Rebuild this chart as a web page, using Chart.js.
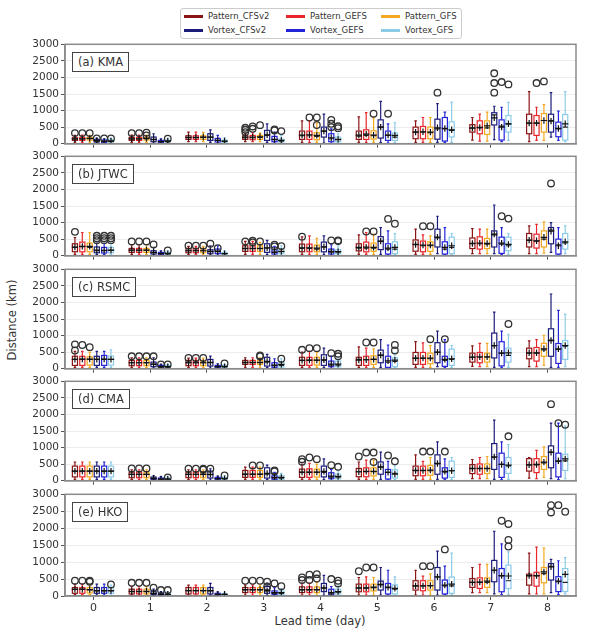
<!DOCTYPE html>
<html>
<head>
<meta charset="utf-8">
<script src="https://cdn.jsdelivr.net/npm/chart.js@4.4.1/dist/chart.umd.min.js"></script>
<style>
  body { margin: 0; background: #fff; width: 589px; height: 639px; position: relative; overflow: hidden;
         font-family: "DejaVu Sans", sans-serif; color: #333; }
  canvas { position: absolute; left: 0; }
  .legend { position: absolute; left: 180px; top: 8px; width: 280px; height: 29px; border: 1px solid #ccc; border-radius: 3px; background: #fff; }
  .item { position: absolute; font-size: 8.5px; line-height: 10px; white-space: nowrap; }
  .item i { position: absolute; left: 0; top: 4px; width: 19px; height: 3px; }
  .item span { position: absolute; left: 24px; top: 0; }
  .plabel { position: absolute; left: 72px; font-size: 11.5px; line-height: 16px; padding: 1px 5px; border: 1.3px solid #444; background: #fff; z-index: 5; }
  .xtitle { position: absolute; left: 0; width: 640px; top: 614px; text-align: center; font-size: 11.5px; }
  .ytitle { position: absolute; left: 12px; top: 320px; font-size: 11.5px; white-space: nowrap; transform: translate(-50%, -50%) rotate(-90deg); }
</style>
</head>
<body>
<div class="legend" id="legend"></div>
<div class="xtitle">Lead time (day)</div>
<div class="ytitle">Distance (km)</div>
<script>
// categories and labels
const leadDays = [0, 1, 2, 3, 4, 5, 6, 7, 8];
const yTicks = [0, 500, 1000, 1500, 2000, 2500, 3000];
const seriesNames = ['Pattern_CFSv2', 'Pattern_GEFS', 'Pattern_GFS', 'Vortex_CFSv2', 'Vortex_GEFS', 'Vortex_GFS'];
const panelLabels = ['(a) KMA', '(b) JTWC', '(c) RSMC', '(d) CMA', '(e) HKO'];

// box stats per lead: [low whisker, q1, median, q3, high whisker, mean] (km)
// (a) KMA
const kma_pCFSv2 = [[40,100,140,180,250,150],[40,100,140,190,260,150],[60,130,180,240,350,190],[60,130,180,240,320,200],[40,130,240,380,690,260],[40,130,230,380,810,260],[40,150,350,500,690,350],[110,350,480,575,790,470],[60,300,620,890,1570,620]];
const kma_pGEFS  = [[40,100,140,190,260,150],[40,100,140,190,260,150],[60,130,180,240,350,190],[60,120,180,250,330,200],[40,130,240,380,690,270],[40,130,250,420,935,290],[40,150,350,520,790,360],[80,300,480,690,890,490],[100,250,620,850,1100,620]];
const kma_pGFS   = [[40,110,150,190,250,160],[40,110,150,190,260,160],[60,130,190,240,340,200],[60,130,190,250,320,210],[40,120,220,330,620,250],[40,140,240,390,780,260],[40,150,330,500,790,350],[80,280,480,690,955,540],[100,350,700,910,1180,700]];
const kma_vCFSv2 = [[20,50,90,130,170,90],[20,60,120,200,300,130],[40,100,200,300,420,200],[40,100,250,400,600,270],[20,200,380,500,890,380],[30,170,500,720,1280,500],[40,135,450,740,1210,480],[120,565,870,935,1130,780],[200,350,700,890,1540,680]];
const kma_vGEFS  = [[20,40,70,110,150,70],[20,30,60,100,150,60],[20,50,100,160,250,100],[20,60,120,220,350,130],[10,60,150,300,450,180],[20,100,250,380,600,260],[40,80,450,790,955,460],[60,110,530,720,1100,500],[100,210,450,650,985,460]];
const kma_vGFS   = [[20,50,80,120,160,80],[20,50,80,110,150,80],[20,40,70,110,180,80],[20,50,80,140,250,100],[20,60,120,200,300,130],[30,100,200,320,640,250],[40,205,400,660,1255,420],[100,350,600,850,1250,600],[60,110,500,880,1570,600]];
// outliers: [lead, series, km]
const kmaOutliers = [[0,0,320],[0,1,320],[0,2,320],[0,3,160],[0,4,160],[0,5,160],[1,0,320],[1,1,320],[1,2,330],[1,2,250],[1,5,150],
  [3,0,350],[3,0,420],[3,0,480],[3,1,520],[3,1,450],[3,2,560],[3,4,430],[3,4,400],[3,5,380],
  [4,1,790],[4,2,790],[4,2,565],[4,4,720],[4,4,600],[4,4,500],[4,5,525],[4,5,470],[5,2,905],[5,4,905],[6,3,1540],
  [7,3,2125],[7,3,1830],[7,3,1540],[7,4,1860],[7,5,1790],[8,1,1830],[8,2,1880]];

// (b) JTWC
const jtwc_pCFSv2 = [[40,120,250,360,550,260],[40,100,165,220,330,170],[30,90,150,220,280,150],[40,130,215,300,430,220],[40,120,220,350,570,240],[40,146,230,360,630,250],[40,135,330,475,800,340],[60,215,360,535,820,370],[60,263,460,670,900,470]];
const jtwc_pGEFS  = [[40,117,270,410,700,280],[40,100,165,220,330,170],[30,90,150,220,280,150],[40,130,215,300,430,220],[40,120,220,350,600,240],[40,117,230,410,700,260],[40,120,300,440,630,320],[60,200,360,570,800,380],[60,230,440,650,945,450]];
const jtwc_pGFS   = [[40,120,250,380,700,280],[40,100,165,220,330,170],[30,90,150,220,280,150],[40,130,215,300,400,220],[40,120,200,320,520,230],[40,130,230,380,650,250],[40,130,300,420,600,320],[60,215,350,520,800,370],[80,263,500,750,1020,555]];
const jtwc_vCFSv2 = [[30,88,150,263,380,170],[20,50,90,150,250,100],[20,60,120,180,300,130],[30,100,230,360,460,240],[30,117,260,410,600,270],[40,185,430,575,850,440],[60,263,535,800,1190,560],[60,263,630,750,1530,650],[100,360,770,850,1000,740]];
const jtwc_vGEFS  = [[30,80,150,250,370,160],[10,30,60,100,150,60],[20,60,120,200,300,130],[10,50,100,180,280,110],[10,50,110,200,330,130],[30,50,200,360,750,230],[40,50,200,420,850,250],[40,70,350,560,850,380],[40,50,330,500,850,300]];
const jtwc_vGFS   = [[30,90,160,250,380,170],[10,30,60,100,150,60],[10,30,60,100,150,60],[20,60,120,200,300,130],[20,60,110,180,300,120],[40,60,200,420,670,250],[40,60,250,560,670,300],[40,150,300,560,670,340],[60,200,390,670,900,420]];
const jtwcOutliers = [[0,0,720],[0,3,600],[0,3,530],[0,3,470],[0,4,600],[0,4,530],[0,4,470],[0,5,600],[0,5,530],[0,5,470],
  [1,0,430],[1,1,430],[1,2,430],[1,3,340],[1,5,160],[2,0,300],[2,1,300],[2,2,300],[2,3,360],[2,4,230],
  [3,0,430],[3,1,450],[3,1,400],[3,2,430],[3,4,330],[3,4,280],[3,5,290],[4,0,575],[4,4,460],[4,5,460],[4,5,440],
  [5,1,730],[5,2,730],[5,4,1110],[5,5,965],[6,1,890],[6,2,890],[7,4,1190],[7,5,1120],[8,3,2180]];

// (c) RSMC
const rsmc_pCFSv2 = [[40,100,280,375,520,280],[30,90,180,250,330,180],[30,90,180,250,320,180],[40,130,180,250,330,190],[40,100,250,345,500,250],[40,100,280,345,660,260],[40,130,310,490,815,320],[70,200,345,470,690,350],[60,300,470,620,840,480]];
const rsmc_pGEFS  = [[40,100,280,375,520,290],[30,90,180,250,330,180],[30,90,180,250,320,180],[40,130,180,250,330,190],[40,100,250,345,520,260],[40,100,270,375,620,270],[40,130,310,490,780,320],[60,180,345,490,765,360],[60,230,470,640,880,480]];
const rsmc_pGFS   = [[40,110,280,360,500,290],[30,90,180,250,330,180],[30,90,180,250,320,180],[40,130,180,250,330,190],[40,110,250,345,500,260],[40,130,280,390,600,280],[40,150,300,470,700,320],[60,200,345,470,765,360],[100,375,570,765,1010,600]];
const rsmc_vCFSv2 = [[40,100,280,375,520,280],[20,60,130,200,330,140],[20,80,180,280,380,190],[30,80,200,345,430,220],[30,100,250,420,620,270],[40,180,400,560,880,410],[60,180,490,785,1135,500],[40,325,690,1075,1710,700],[40,375,860,1205,2255,850]];
const rsmc_vGEFS  = [[40,100,280,400,520,290],[10,30,60,100,130,60],[10,30,60,100,150,60],[10,40,90,180,300,110],[10,60,110,230,380,140],[30,40,200,375,715,240],[40,70,250,375,880,280],[30,85,470,815,1135,470],[40,160,580,760,1760,600]];
const rsmc_vGFS   = [[40,110,280,380,570,280],[10,30,60,100,130,60],[10,30,60,100,130,60],[10,50,100,200,300,130],[20,60,110,230,350,140],[40,60,220,330,470,260],[40,100,280,590,700,300],[40,200,400,620,1040,480],[60,280,680,850,1640,700]];
const rsmcOutliers = [[0,0,735],[0,0,550],[0,1,715],[0,2,650],[1,0,375],[1,1,375],[1,2,375],[1,3,375],[1,4,130],[1,5,130],
  [2,0,325],[2,1,325],[2,2,325],[2,5,160],[3,2,400],[3,2,370],[3,5,300],
  [4,0,570],[4,1,620],[4,2,620],[4,4,470],[4,5,450],[4,5,375],[5,1,790],[5,2,790],[5,5,715],[5,5,550],
  [6,2,890],[6,4,890],[7,5,1350]];

// (d) CMA
const cma_pCFSv2 = [[40,115,290,440,565,290],[30,90,190,260,330,190],[30,90,190,260,330,190],[40,100,190,310,410,200],[40,100,250,350,500,260],[40,120,270,370,565,270],[40,150,300,440,780,310],[60,215,360,485,640,370],[80,290,480,665,700,480]];
const cma_pGEFS  = [[40,115,290,440,565,290],[30,90,190,260,330,190],[30,90,190,260,330,190],[40,100,190,310,410,200],[40,100,250,360,520,260],[40,120,270,390,620,280],[40,150,300,440,585,310],[60,195,360,505,700,370],[60,245,480,665,915,490]];
const cma_pGFS   = [[40,115,290,440,565,290],[30,90,190,260,330,190],[30,90,190,260,330,190],[40,100,190,310,410,200],[40,110,250,350,500,260],[40,145,270,390,620,280],[40,165,300,460,700,320],[60,215,360,505,730,370],[100,340,540,730,1020,560]];
const cma_vCFSv2 = [[40,115,290,440,565,290],[10,40,70,110,150,70],[20,80,180,290,360,190],[30,80,200,390,470,220],[30,115,250,440,660,280],[40,195,410,565,860,420],[40,195,505,780,1170,520],[40,340,700,1120,1830,720],[60,390,855,1050,1735,860]];
const cma_vGEFS  = [[40,115,290,440,565,290],[10,30,50,80,120,50],[10,30,60,100,140,60],[10,30,80,150,250,100],[10,60,110,240,340,140],[30,50,250,340,585,250],[40,80,260,390,660,280],[30,100,490,830,1170,490],[30,115,580,830,1735,600]];
const cma_vGFS   = [[40,115,290,440,565,290],[10,30,50,80,110,50],[10,30,60,100,150,60],[10,40,80,150,220,100],[20,60,110,200,300,130],[40,80,220,330,470,200],[40,100,300,590,700,300],[40,220,450,700,1090,470],[60,310,600,800,1655,660]];
const cmaOutliers = [[1,0,370],[1,1,370],[1,2,370],[1,5,100],[2,0,360],[2,1,360],[2,2,360],[2,2,330],[2,3,360],[2,5,160],
  [3,1,460],[3,2,460],[3,4,310],[3,4,280],[4,0,570],[4,0,650],[4,1,700],[4,2,650],[4,4,470],[4,5,420],
  [5,0,730],[5,1,850],[5,2,850],[5,2,565],[5,4,760],[5,5,585],[6,1,880],[6,2,880],[6,4,880],[7,5,1340],
  [8,3,2310],[8,4,1735],[8,5,1690]];

// (e) HKO
const hko_pCFSv2 = [[40,80,195,250,350,195],[30,60,130,200,280,140],[30,60,155,250,320,160],[30,100,180,250,330,190],[30,100,180,270,380,190],[30,125,230,350,545,240],[30,175,300,450,760,300],[100,255,400,515,840,400],[60,320,595,645,1265,600]];
const hko_pGEFS  = [[40,80,195,250,350,200],[30,60,130,200,280,140],[30,60,155,250,320,160],[30,100,180,250,330,190],[30,100,180,270,380,190],[30,125,230,350,565,240],[30,155,300,450,585,300],[100,225,400,535,935,410],[60,290,595,700,1440,600]];
const hko_pGFS   = [[40,90,180,250,330,190],[30,60,130,200,280,140],[30,60,155,250,320,160],[30,100,180,250,330,190],[30,100,180,270,400,190],[30,150,250,350,545,260],[30,175,300,450,650,310],[100,255,400,535,935,440],[60,390,660,840,1410,710]];
const hko_vCFSv2 = [[30,80,150,250,350,160],[10,40,80,140,200,80],[20,60,150,250,370,160],[20,80,150,280,380,160],[20,130,230,370,610,240],[30,175,330,440,840,340],[30,175,565,840,1325,560],[60,420,760,1050,1910,760],[100,470,875,955,1080,860]];
const hko_vGEFS  = [[30,80,150,250,350,160],[10,30,50,80,130,50],[10,30,50,80,120,50],[10,40,80,150,250,100],[10,30,60,200,280,100],[30,60,250,370,760,260],[40,60,300,470,880,320],[40,125,595,810,1540,600],[40,130,420,570,1040,440]];
const hko_vGFS   = [[30,80,150,250,320,160],[10,30,50,80,130,50],[10,30,50,70,110,50],[10,40,80,150,220,100],[20,60,110,200,300,130],[30,60,200,330,565,225],[40,80,300,560,1265,350],[40,220,450,910,1300,590],[60,130,400,810,1130,640]];
const hkoOutliers = [[0,0,450],[0,1,450],[0,2,450],[0,2,420],[0,5,340],[1,0,390],[1,1,390],[1,2,390],[1,3,245],[1,4,175],[1,5,175],
  [3,0,450],[3,1,450],[3,2,450],[3,3,420],[3,3,275],[3,4,370],[3,5,290],
  [4,0,545],[4,0,470],[4,1,630],[4,1,470],[4,2,645],[4,2,515],[4,4,500],[4,5,450],[4,5,370],
  [5,0,730],[5,1,840],[5,2,840],[6,1,880],[6,2,880],[6,4,1375],
  [7,4,2220],[7,5,2125],[7,5,1655],[7,5,1460],[8,3,2680],[8,3,2465],[8,4,2680],[8,5,2485]];

// styles
const seriesColors = ['#8b1515', '#e8262b', '#f4a81f', '#1c1c7a', '#2323d8', '#8ccbe8'];
const seriesOffsets = [-0.325, -0.195, -0.065, 0.06, 0.19, 0.31];
const boxWidth = 0.09;
const panelTops = [44, 156, 269, 381, 494];
const panelHeight = 102;

Chart.defaults.font.family = '"DejaVu Sans", sans-serif';
Chart.defaults.color = '#333';

// boxes and whiskers, drawn through the chart scales
const boxPlugin = {
  id: 'boxes',
  beforeDatasetsDraw(chart) {
    const { ctx, scales: { x, y } } = chart;
    ctx.save();
    ctx.beginPath();
    ctx.rect(chart.chartArea.left, chart.chartArea.top, chart.chartArea.width, chart.chartArea.height);
    ctx.clip();
    chart.data.datasets.forEach(ds => {
      if (!ds.stats) return;
      ds.stats.forEach((s, i) => {
        const cx = x.getPixelForValue(leadDays[i] + ds.offset);
        const hw = (x.getPixelForValue(boxWidth) - x.getPixelForValue(0)) / 2;
        const [lo, q1, med, q3, hi] = s.slice(0, 5).map(v => y.getPixelForValue(v));
        ctx.strokeStyle = ds.color;
        ctx.lineWidth = 1.2;
        ctx.beginPath();
        ctx.moveTo(cx, q3); ctx.lineTo(cx, hi);
        ctx.moveTo(cx - hw / 2, hi); ctx.lineTo(cx + hw / 2, hi);
        ctx.moveTo(cx, q1); ctx.lineTo(cx, lo);
        ctx.moveTo(cx - hw / 2, lo); ctx.lineTo(cx + hw / 2, lo);
        ctx.stroke();
        ctx.fillStyle = '#fff';
        ctx.fillRect(cx - hw, q3, hw * 2, q1 - q3);
        ctx.strokeRect(cx - hw, q3, hw * 2, q1 - q3);
        ctx.strokeStyle = '#222';
        ctx.beginPath();
        ctx.moveTo(cx - hw, med); ctx.lineTo(cx + hw, med);
        ctx.stroke();
      });
    });
    ctx.restore();
  }
};

// full frame around each panel
const framePlugin = {
  id: 'frame',
  afterDatasetsDraw(chart) {
    const { ctx, chartArea: a } = chart;
    ctx.save();
    ctx.strokeStyle = '#8a8a8a';
    ctx.lineWidth = 1.5;
    ctx.strokeRect(a.left, a.top, a.width, a.height);
    ctx.restore();
  }
};

function makePanel(idx, stats, outliers) {
  const last = idx === panelTops.length - 1;
  const bottom = last ? 20 : 6;
  const canvas = document.createElement('canvas');
  canvas.width = 589;
  canvas.height = 8 + panelHeight + bottom;
  canvas.style.top = (panelTops[idx] - 8) + 'px';
  document.body.appendChild(canvas);

  const label = document.createElement('div');
  label.className = 'plabel';
  label.style.top = (panelTops[idx] + 8) + 'px';
  label.textContent = panelLabels[idx];
  document.body.appendChild(label);

  const datasets = stats.map((s, k) => ({
    label: seriesNames[k],
    stats: s,
    offset: seriesOffsets[k],
    color: seriesColors[k],
    data: s.map((b, i) => ({ x: leadDays[i] + seriesOffsets[k], y: b[5] })),
    pointStyle: 'cross',
    pointRadius: 3.2,
    borderColor: '#111',
    borderWidth: 1.2
  }));
  datasets.push({
    label: 'outliers',
    data: outliers.map(o => ({ x: leadDays[o[0]] + seriesOffsets[o[1]], y: o[2] })),
    pointStyle: 'circle',
    pointRadius: 3.3,
    borderColor: '#333',
    backgroundColor: 'rgba(0,0,0,0)',
    borderWidth: 1.3
  });

  new Chart(canvas, {
    type: 'scatter',
    data: { datasets },
    options: {
      responsive: false,
      animation: false,
      events: [],
      layout: { padding: { top: 8, right: 13, left: 0, bottom: 0 } },
      plugins: { legend: { display: false }, tooltip: { enabled: false } },
      scales: {
        x: {
          type: 'linear', min: -0.5, max: 8.5,
          afterBuildTicks: s => { s.ticks = leadDays.map(v => ({ value: v })); },
          afterFit: s => { s.height = bottom; },
          ticks: { display: last, font: { size: 11 }, color: '#333', padding: 2, maxRotation: 0,
                   callback: v => String(v) },
          grid: { drawOnChartArea: false, tickLength: 4, tickColor: '#555' },
          border: { color: '#8a8a8a', width: 1.5 }
        },
        y: {
          min: 0, max: 3000,
          afterBuildTicks: s => { s.ticks = yTicks.map(v => ({ value: v })); },
          afterFit: s => { s.width = 65; },
          ticks: { font: { size: 10.5 }, color: '#333', padding: 2, callback: v => String(v) },
          grid: { color: '#ececec', tickLength: 4, tickColor: '#555' },
          border: { color: '#8a8a8a', width: 1.5 }
        }
      }
    },
    plugins: [boxPlugin, framePlugin]
  });
}

makePanel(0, [kma_pCFSv2, kma_pGEFS, kma_pGFS, kma_vCFSv2, kma_vGEFS, kma_vGFS], kmaOutliers);
makePanel(1, [jtwc_pCFSv2, jtwc_pGEFS, jtwc_pGFS, jtwc_vCFSv2, jtwc_vGEFS, jtwc_vGFS], jtwcOutliers);
makePanel(2, [rsmc_pCFSv2, rsmc_pGEFS, rsmc_pGFS, rsmc_vCFSv2, rsmc_vGEFS, rsmc_vGFS], rsmcOutliers);
makePanel(3, [cma_pCFSv2, cma_pGEFS, cma_pGFS, cma_vCFSv2, cma_vGEFS, cma_vGFS], cmaOutliers);
makePanel(4, [hko_pCFSv2, hko_pGEFS, hko_pGFS, hko_vCFSv2, hko_vGEFS, hko_vGFS], hkoOutliers);

// legend: 3 columns x 2 rows
const legend = document.getElementById('legend');
const legendCols = [3, 105, 200];
seriesNames.forEach((name, k) => {
  const col = k % 3, row = Math.floor(k / 3);
  const item = document.createElement('div');
  item.className = 'item';
  item.style.left = legendCols[col] + 'px';
  item.style.top = (2 + row * 14) + 'px';
  item.innerHTML = '<i style="background:' + seriesColors[k] + '"></i><span></span>';
  item.querySelector('span').textContent = name;
  legend.appendChild(item);
});
</script>
</body>
</html>
